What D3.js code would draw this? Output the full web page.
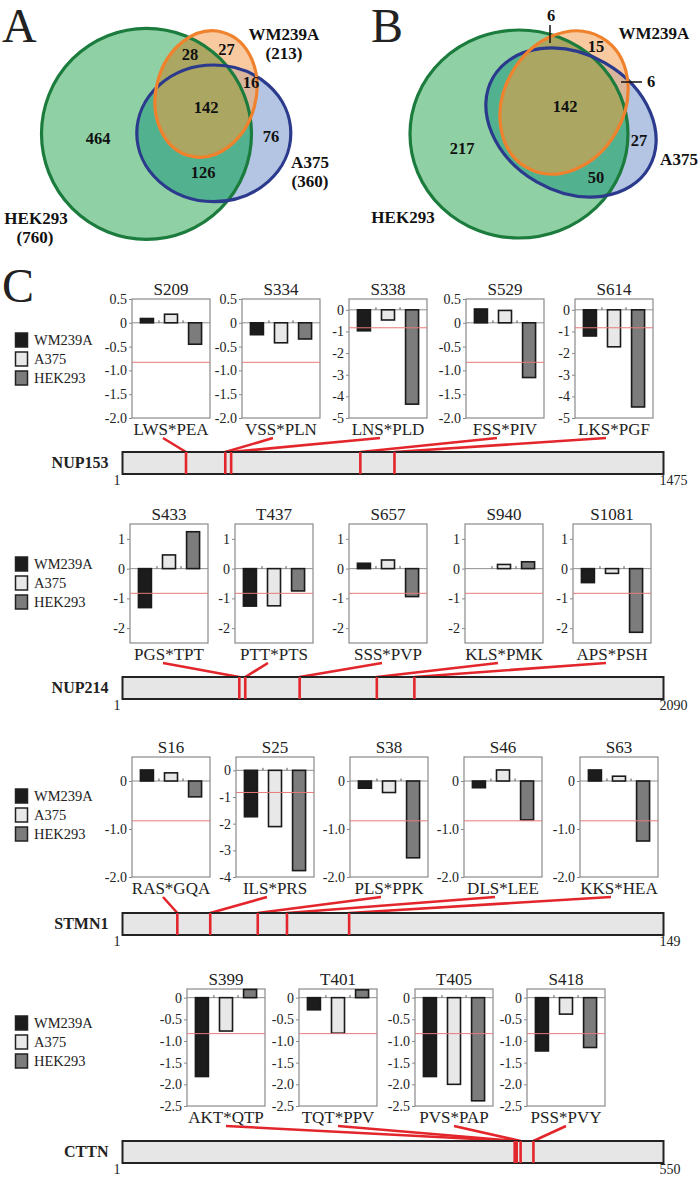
<!DOCTYPE html>
<html><head><meta charset="utf-8">
<script src="https://cdn.jsdelivr.net/npm/d3@7"></script>
<style>body{margin:0;background:#fff}svg{display:block}</style>
</head><body>
<svg id="fig" width="700" height="1179"></svg>
<script>
// ---------------- DATA ----------------
const cellLines = ["WM239A", "A375", "HEK293"];
// Venn A: phosphosite counts (HEK293 only, WM∩HEK, WM only, WM∩A375, all, A375 only, A375∩HEK)
const vennACounts = [464, 28, 27, 16, 142, 76, 126];
const vennATotals = [760, 213, 360]; // HEK293, WM239A, A375
// Venn B
const vennBCounts = [217, 6, 15, 6, 142, 27, 50];
const threshold = -0.83;

const proteins = ["NUP153", "NUP214", "STMN1", "CTTN"];
const proteinLengths = [1475, 2090, 149, 550];

const nup153Sites = ["S209", "S334", "S338", "S529", "S614"];
const nup153Motifs = ["LWS*PEA", "VSS*PLN", "LNS*PLD", "FSS*PIV", "LKS*PGF"];
const nup153Pos = [174, 281, 297, 649, 742];
const nup153WM = [0.09, -0.25, -0.97, 0.29, -1.21];
const nup153A375 = [0.18, -0.42, -0.47, 0.26, -1.71];
const nup153HEK = [-0.45, -0.34, -4.36, -1.15, -4.49];
const nup153Ticks = [
  ["0.5", "0", "-0.5", "-1.0", "-1.5", "-2.0"],
  ["0.5", "0", "-0.5", "-1.0", "-1.5", "-2.0"],
  ["0", "-1", "-2", "-3", "-4", "-5"],
  ["0.5", "0", "-0.5", "-1.0", "-1.5", "-2.0"],
  ["0", "-1", "-2", "-3", "-4", "-5"]];
const nup153YMax = [0.5, 0.5, 0.5, 0.5, 0.5];
const nup153YMin = [-2, -2, -5, -2, -5];

const nup214Sites = ["S433", "T437", "S657", "S940", "S1081"];
const nup214Motifs = ["PGS*TPT", "PTT*PTS", "SSS*PVP", "KLS*PMK", "APS*PSH"];
const nup214Pos = [452, 475, 685, 983, 1128];
const nup214WM = [-1.31, -1.26, 0.18, null, -0.47];
const nup214A375 = [0.46, -1.25, 0.29, 0.14, -0.16];
const nup214HEK = [1.24, -0.75, -0.94, 0.23, -2.14];
const nup214Ticks = [
  ["1", "0", "-1", "-2"], ["1", "0", "-1", "-2"], ["1", "0", "-1", "-2"],
  ["1", "0", "-1", "-2"], ["1", "0", "-1", "-2"]];
const nup214YMax = [1.5, 1.5, 1.5, 1.5, 1.5];
const nup214YMin = [-2.5, -2.5, -2.5, -2.5, -2.5];

const stmn1Sites = ["S16", "S25", "S38", "S46", "S63"];
const stmn1Motifs = ["RAS*GQA", "ILS*PRS", "PLS*PPK", "DLS*LEE", "KKS*HEA"];
const stmn1Pos = [16, 25, 38, 46, 63];
const stmn1WM = [0.23, -1.74, -0.15, -0.14, 0.23];
const stmn1A375 = [0.17, -2.11, -0.24, 0.23, 0.10];
const stmn1HEK = [-0.33, -3.76, -1.60, -0.81, -1.25];
const stmn1Ticks = [
  ["0", "-1.0", "-2.0"], ["0", "-1", "-2", "-3", "-4"], ["0", "-1.0", "-2.0"],
  ["0", "-1.0", "-2.0"], ["0", "-1.0", "-2.0"]];
const stmn1YMax = [0.5, 0.5, 0.5, 0.5, 0.5];
const stmn1YMin = [-2, -4, -2, -2, -2];

const cttnSites = ["S399", "T401", "T405", "S418"];
const cttnMotifs = ["AKT*QTP", "TQT*PPV", "PVS*PAP", "PSS*PVY"];
const cttnPos = [399, 401, 405, 418];
const cttnWM = [-1.82, -0.28, -1.82, -1.23];
const cttnA375 = [-0.77, -0.82, -2.00, -0.38];
const cttnHEK = [0.19, 0.18, -2.38, -1.15];
const cttnTicks = [
  ["0", "-0.5", "-1.0", "-1.5", "-2.0", "-2.5"], ["0", "-0.5", "-1.0", "-1.5", "-2.0", "-2.5"],
  ["0", "-0.5", "-1.0", "-1.5", "-2.0", "-2.5"], ["0", "-0.5", "-1.0", "-1.5", "-2.0", "-2.5"]];
const cttnYMax = [0.2, 0.2, 0.2, 0.2];
const cttnYMin = [-2.5, -2.5, -2.5, -2.5];

// ---------------- DRAWING ----------------
const SERIF = "'Liberation Serif','Times New Roman',serif";
const svg = d3.select("#fig");
svg.append("rect").attr("width", 700).attr("height", 1179).attr("fill", "#fff");
const defs = svg.append("defs");

function txt(g, x, y, s, o = {}) {
  return g.append("text").attr("x", x).attr("y", y).text(s)
    .attr("font-family", SERIF).attr("font-size", o.size || 14)
    .attr("font-weight", o.bold ? "bold" : "normal")
    .attr("text-anchor", o.anchor || "middle").attr("fill", o.fill || "#111");
}

// panel letters
txt(svg, 2, 42, "A", {size: 48, anchor: "start", fill: "#222"});
txt(svg, 371, 42, "B", {size: 48, anchor: "start", fill: "#222"});
txt(svg, 2, 302, "C", {size: 48, anchor: "start", fill: "#222"});

const COL = {green: "#8fd1a4", blue: "#b3c5e3", orange: "#f9caa0", teal: "#52b28f", tan: "#d9b59c", olive: "#aba661",
  gS: "#1b7c3d", bS: "#2b3a8c", oS: "#f0822e"};

function ell(sel, e) {
  return sel.append("ellipse").attr("cx", 0).attr("cy", 0).attr("rx", e.rx).attr("ry", e.ry)
    .attr("transform", `translate(${e.cx},${e.cy}) rotate(${e.rot || 0})`);
}
function venn(id, G, B, O) {
  const cg = defs.append("clipPath").attr("id", id + "g"); ell(cg, G);
  const cb = defs.append("clipPath").attr("id", id + "b"); ell(cb, B);
  const g = svg.append("g");
  ell(g, G).attr("fill", COL.green);
  ell(g, B).attr("fill", COL.blue);
  ell(g.append("g").attr("clip-path", `url(#${id}g)`), B).attr("fill", COL.teal);
  ell(g, O).attr("fill", COL.orange);
  ell(g.append("g").attr("clip-path", `url(#${id}b)`), O).attr("fill", COL.tan);
  ell(g.append("g").attr("clip-path", `url(#${id}g)`), O).attr("fill", COL.olive);
  ell(g, G).attr("fill", "none").attr("stroke", COL.gS).attr("stroke-width", 3.2);
  ell(g, B).attr("fill", "none").attr("stroke", COL.bS).attr("stroke-width", 3.2);
  ell(g, O).attr("fill", "none").attr("stroke", COL.oS).attr("stroke-width", 3.2);
  return g;
}
// Venn A
const gA = venn("vA", {cx: 146.5, cy: 133.8, rx: 105, ry: 105.5},
  {cx: 213.8, cy: 133.3, rx: 77, ry: 68.3},
  {cx: 206, cy: 94, rx: 50, ry: 64, rot: 15});
const vAPos = [[98, 144], [190, 60], [226.5, 55], [251, 88], [206, 112.5], [271, 141.5], [203, 178]];
vennACounts.forEach((c, i) => txt(gA, vAPos[i][0], vAPos[i][1], c, {size: 16.5, bold: true}));
txt(gA, 284, 40, cellLines[0], {size: 17, bold: true});
txt(gA, 284, 59, `(${vennATotals[1]})`, {size: 17, bold: true});
txt(gA, 310, 168, cellLines[1], {size: 17, bold: true});
txt(gA, 310, 187, `(${vennATotals[2]})`, {size: 17, bold: true});
txt(gA, 36, 224, cellLines[2], {size: 17, bold: true});
txt(gA, 35, 243, `(${vennATotals[0]})`, {size: 17, bold: true});

// Venn B
const gB = venn("vB", {cx: 519, cy: 134, rx: 109, ry: 104},
  {cx: 571, cy: 122.5, rx: 90, ry: 68.6, rot: 30},
  {cx: 564, cy: 102.5, rx: 60, ry: 75, rot: 30});
const vBPos = [[462, 154], [551, 21], [596, 52], [651, 87], [565, 112], [639, 146], [596, 183]];
vennBCounts.forEach((c, i) => txt(gB, vBPos[i][0], vBPos[i][1], c, {size: 16.5, bold: true}));
gB.append("line").attr("x1", 550).attr("x2", 550).attr("y1", 25).attr("y2", 43).attr("stroke", "#111").attr("stroke-width", 1.5);
gB.append("line").attr("x1", 621).attr("x2", 642).attr("y1", 82).attr("y2", 82).attr("stroke", "#111").attr("stroke-width", 1.5);
txt(gB, 654, 39, cellLines[0], {size: 17, bold: true});
txt(gB, 679, 165, cellLines[1], {size: 17, bold: true});
txt(gB, 403, 223, cellLines[2], {size: 17, bold: true});

// Panel C
const seriesFill = {"WM239A": "#1c1c1c", "A375": "#e8e8e8", "HEK293": "#7c7c7c"};
const rowData = [
  {sites: nup153Sites, motifs: nup153Motifs, pos: nup153Pos, wm: nup153WM, a: nup153A375, h: nup153HEK, ticks: nup153Ticks, ymax: nup153YMax, ymin: nup153YMin},
  {sites: nup214Sites, motifs: nup214Motifs, pos: nup214Pos, wm: nup214WM, a: nup214A375, h: nup214HEK, ticks: nup214Ticks, ymax: nup214YMax, ymin: nup214YMin},
  {sites: stmn1Sites, motifs: stmn1Motifs, pos: stmn1Pos, wm: stmn1WM, a: stmn1A375, h: stmn1HEK, ticks: stmn1Ticks, ymax: stmn1YMax, ymin: stmn1YMin},
  {sites: cttnSites, motifs: cttnMotifs, pos: cttnPos, wm: cttnWM, a: cttnA375, h: cttnHEK, ticks: cttnTicks, ymax: cttnYMax, ymin: cttnYMin}];
const rowLayout = [
  {top: 299, bottom: 418, lefts: [132, 242, 349, 466, 575], legendY: 340, barTop: 452, dx: -8},
  {top: 524, bottom: 643, lefts: [130, 235, 349, 465, 573], legendY: 564, barTop: 677, dx: -6},
  {top: 757, bottom: 877, lefts: [132, 236, 350, 464, 580], legendY: 796, barTop: 913, dx: -8},
  {top: 989, bottom: 1106, lefts: [187, 299, 415, 527], legendY: 1023, barTop: 1141, dx: 0}];
const BOXW = 78, PBL = 122.5, PBR = 663.5, PBH = 22;

rowData.forEach((rd, r) => {
  const L = rowLayout[r];
  const g = svg.append("g");
  // legend
  cellLines.forEach((cl, k) => {
    const cy = L.legendY + k * 19;
    g.append("rect").attr("x", 15.5).attr("y", cy - 7).attr("width", 12).attr("height", 14)
      .attr("fill", seriesFill[cl]).attr("stroke", "#222").attr("stroke-width", 1.5);
    txt(g, 34, cy + 5, cl, {size: 14.5, anchor: "start", fill: "#222"});
  });
  // protein coordinate scale
  const xs = d3.scaleLinear().domain([1, proteinLengths[r]]).range([PBL, PBR]);
  // charts
  rd.sites.forEach((site, i) => {
    const left = L.lefts[i], right = left + BOXW;
    const y = d3.scaleLinear().domain([rd.ymax[i], rd.ymin[i]]).range([L.top, L.bottom]);
    const x = d3.scaleBand().domain(cellLines).range([left, right]).paddingInner(0.46).paddingOuter(0.35);
    const cg = g.append("g");
    cg.append("rect").attr("x", left).attr("y", L.top).attr("width", BOXW).attr("height", L.bottom - L.top)
      .attr("fill", "#fff").attr("stroke", "#8a8a8a").attr("stroke-width", 1.2);
    const ax = cg.append("g").attr("transform", `translate(${left},0)`)
      .call(d3.axisLeft(y).tickValues(rd.ticks[i].map(Number)).tickFormat((d, k) => rd.ticks[i][k]).tickSize(3).tickPadding(2));
    ax.attr("font-family", SERIF);
    ax.select(".domain").remove();
    ax.selectAll(".tick line").attr("stroke", "#8a8a8a");
    ax.selectAll(".tick text").attr("font-family", SERIF).attr("font-size", 14).attr("fill", "#222");
    // zero line
    cg.append("line").attr("x1", left).attr("x2", right).attr("y1", y(0)).attr("y2", y(0)).attr("stroke", "#8f8f8f").attr("stroke-width", 1);
    const step = x.step();
    [1, 2].forEach(k => {
      const bx = x(cellLines[k]) - step * 0.46 / 2;
      cg.append("line").attr("x1", bx).attr("x2", bx).attr("y1", y(0)).attr("y2", y(0) - 2.5).attr("stroke", "#555");
    });
    const vals = [rd.wm[i], rd.a[i], rd.h[i]];
    vals.forEach((v, k) => {
      if (v === null) return;
      cg.append("rect").attr("x", x(cellLines[k])).attr("width", x.bandwidth())
        .attr("y", y(Math.max(0, v))).attr("height", Math.abs(y(v) - y(0)))
        .attr("fill", seriesFill[cellLines[k]]).attr("stroke", "#1a1a1a").attr("stroke-width", 1.6);
    });
    cg.append("line").attr("x1", left).attr("x2", right).attr("y1", y(threshold)).attr("y2", y(threshold))
      .attr("stroke", "#e77a7a").attr("stroke-width", 1);
    const cx = left + BOXW / 2;
    txt(cg, cx, L.top - 4, site, {size: 17, fill: "#222"});
    txt(cg, cx, L.bottom + 17, rd.motifs[i], {size: 17, fill: "#222"});
    // connector line
    const px = xs(rd.pos[i]);
    g.append("path").attr("d", d3.line()([[cx + L.dx, L.bottom + 20], [px, L.barTop], [px, L.barTop + PBH]]))
      .attr("fill", "none").attr("stroke", "#e3262b").attr("stroke-width", 2.6).attr("stroke-linejoin", "round");
  });
  // protein bar
  const pb = svg.append("g");
  pb.append("rect").attr("x", PBL).attr("y", L.barTop).attr("width", PBR - PBL).attr("height", PBH)
    .attr("fill", "#e6e6e6").attr("stroke", "#222").attr("stroke-width", 2);
  rd.pos.forEach(p => {
    pb.append("line").attr("x1", xs(p)).attr("x2", xs(p)).attr("y1", L.barTop).attr("y2", L.barTop + PBH)
      .attr("stroke", "#e3262b").attr("stroke-width", 2.6);
  });
  txt(pb, PBL - 14, L.barTop + 16, proteins[r], {size: 16, bold: true, anchor: "end", fill: "#222"});
  txt(pb, PBL - 2, L.barTop + PBH + 11, "1", {size: 14, anchor: "end", fill: "#222"});
  txt(pb, PBR - 4, L.barTop + PBH + 11, proteinLengths[r], {size: 14, anchor: "start", fill: "#222"});
});
</script>
</body></html>
